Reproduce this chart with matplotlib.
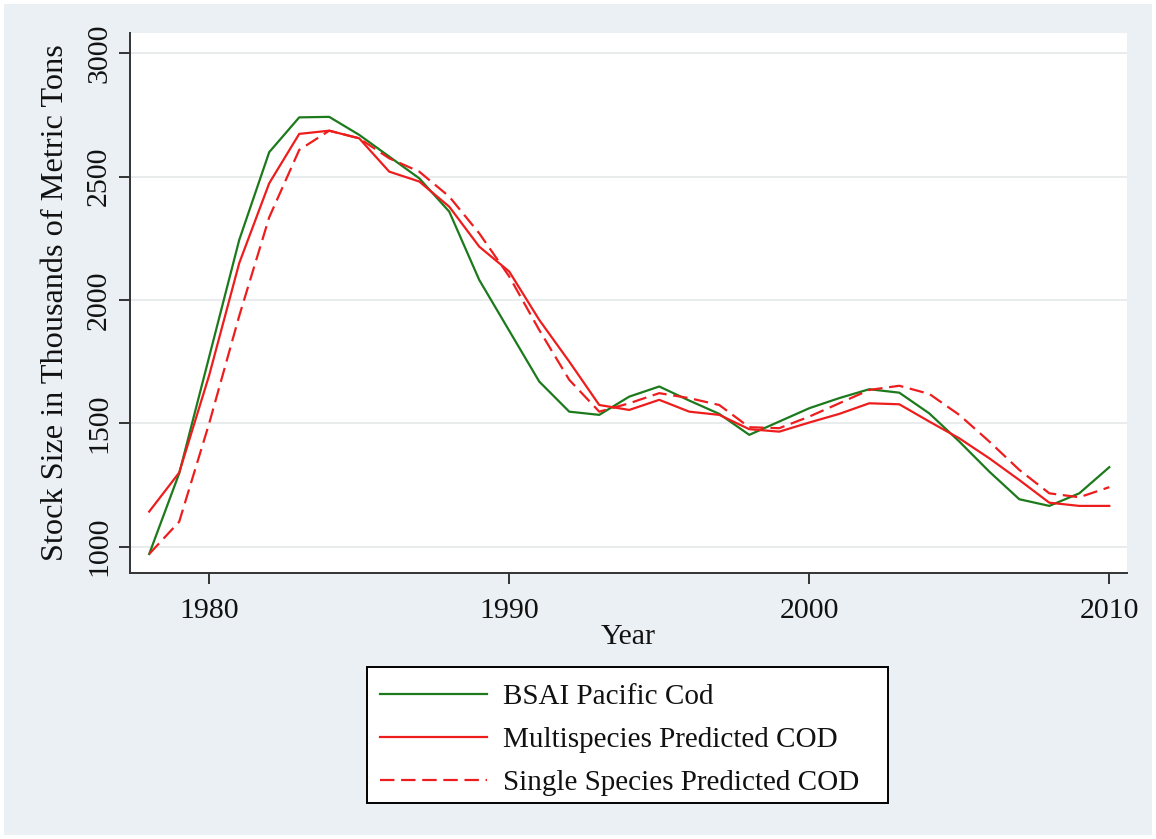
import matplotlib
matplotlib.use("Agg")
import matplotlib.pyplot as plt
from matplotlib.patches import Rectangle

plt.rcParams['font.family'] = ['Liberation Serif', 'DejaVu Serif']

years = list(range(1978, 2011))
bsai_cod = [970, 1297, 1770, 2243, 2599, 2740, 2742, 2669, 2581, 2493,
            2358, 2081, 1875, 1669, 1547, 1534, 1608, 1649, 1592, 1538,
            1453, 1507, 1561, 1602, 1638, 1624, 1540, 1426, 1304, 1192,
            1165, 1216, 1322]
multi_cod = [1142, 1300, 1695, 2149, 2473, 2673, 2686, 2655, 2520, 2480,
             2378, 2216, 2115, 1919, 1750, 1574, 1554, 1595, 1547, 1534,
             1476, 1466, 1503, 1538, 1581, 1577, 1507, 1439, 1358, 1270,
             1178, 1165, 1165]
single_cod = [970, 1101, 1500, 1935, 2335, 2608, 2686, 2655, 2574, 2520,
              2419, 2270, 2095, 1878, 1676, 1547, 1581, 1622, 1602, 1574,
              1484, 1480, 1527, 1581, 1635, 1652, 1619, 1534, 1426, 1311,
              1216, 1200, 1241]

labels = ["BSAI Pacific Cod", "Multispecies Predicted COD", "Single Species Predicted COD"]
yticks = [1000, 1500, 2000, 2500, 3000]
xticks = [1980, 1990, 2000, 2010]

W, H = 1156, 839
fig = plt.figure(figsize=(W / 100, H / 100), dpi=100)
fig.patch.set_facecolor('white')
bg = '#EAF0F3'
fig.patches.append(Rectangle((4 / W, 4 / H), 1 - 8 / W, 1 - 8 / H,
                             transform=fig.transFigure, facecolor=bg,
                             edgecolor='none', zorder=-10))

ax = fig.add_axes([130 / W, 1 - 573 / H, (1127 - 130) / W, (573 - 33) / H])
ax.set_facecolor('white')

green = '#1C7A1C'
red = '#EE1D1D'
dash = (0, (6.5, 3))
ax.plot(years, bsai_cod, color=green, lw=1.6, label=labels[0], zorder=3)
ax.plot(years, multi_cod, color=red, lw=1.6, label=labels[1], zorder=4)
ax.plot(years, single_cod, color=red, lw=1.6, linestyle=dash,
        label=labels[2], zorder=5)

ax.set_xlim(1977.36, 2010.59)
ax.set_ylim(893, 3082)
ax.set_xticks(xticks)
ax.set_yticks(yticks)
ax.set_yticklabels([str(v) for v in yticks], rotation=90, va='center')
ax.yaxis.grid(True, color='#E6EAEC', lw=1.3)
ax.set_axisbelow(True)

for s in ['top', 'right']:
    ax.spines[s].set_visible(False)
for s in ['left', 'bottom']:
    ax.spines[s].set_color('#333333')
    ax.spines[s].set_linewidth(1.4)
ax.tick_params(axis='both', direction='out', length=8, width=1.4,
               color='#333333', labelsize=21.5, labelcolor='#111111')
ax.tick_params(axis='x', pad=10)
ax.tick_params(axis='y', pad=5)

ax.set_xlabel('Year', fontsize=21.5, color='#111111', labelpad=0)
ax.set_ylabel('Stock Size in Thousands of Metric Tons', fontsize=23.2,
              color='#111111', labelpad=11.5)

# legend frame drawn separately (wider right padding as in the original)
bx0, by0, bx1, by1 = 367, 667, 888, 803
fig.patches.append(Rectangle((bx0 / W, 1 - by1 / H), (bx1 - bx0) / W, (by1 - by0) / H,
                             transform=fig.transFigure, facecolor='white',
                             edgecolor='black', lw=1.4, zorder=1))
leg = fig.legend(loc='upper left', bbox_to_anchor=(bx0 / W, 1 - 670.5 / H),
                 fontsize=21, frameon=False, handlelength=3.67,
                 handletextpad=0.55, labelspacing=0.57, borderpad=0.45,
                 borderaxespad=0)
leg.set_zorder(5)
for t in leg.get_texts():
    t.set_color('#111111')

fig.savefig('out.png', dpi=100, facecolor=fig.get_facecolor())
